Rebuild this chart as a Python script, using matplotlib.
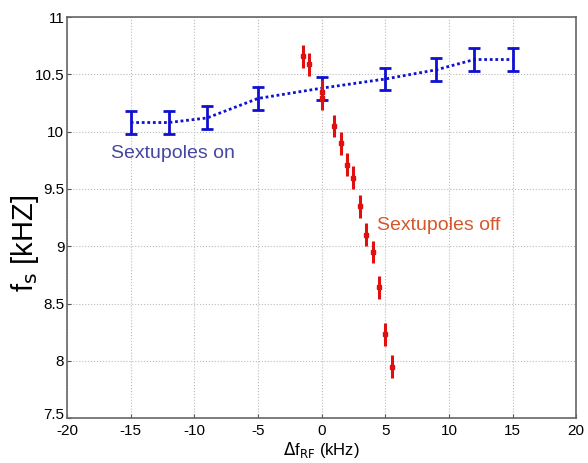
import numpy as np
import matplotlib.pyplot as plt
from matplotlib.transforms import ScaledTranslation

# sextupoles on: synchrotron frequency vs RF detuning
on_df = [-15, -12, -9, -5, 0, 5, 9, 12, 15]
on_fs = [10.08, 10.08, 10.12, 10.29, 10.38, 10.46, 10.54, 10.63, 10.63]
on_err = [0.1, 0.1, 0.1, 0.1, 0.1, 0.1, 0.1, 0.1, 0.1]

# sextupoles off
off_df = [-1.5, -1, 0, 0, 1, 1.5, 2, 2.5, 3, 3.5, 4, 4.5, 5, 5.5]
off_fs = [10.66, 10.59, 10.35, 10.29, 10.05, 9.90, 9.71, 9.60, 9.35, 9.10, 8.95, 8.64, 8.23, 7.95]
off_err = [0.1] * len(off_df)

plt.rcParams['font.family'] = ['Liberation Sans', 'DejaVu Sans']

fig = plt.figure(figsize=(5.88, 4.63), dpi=100)
ax = fig.add_axes([0.114, 0.097, 0.866, 0.866])

ax.errorbar(on_df, on_fs, yerr=on_err, color='#1010d0', lw=2, ls=(0, (1, 1)),
            elinewidth=2, capsize=4, capthick=2, zorder=3)
ax.errorbar(off_df, off_fs, yerr=off_err, color='#e01010', ls='none', marker='s',
            ms=3.5, elinewidth=2.2, capsize=0, zorder=4)

ax.text(-16.55, 9.81, 'Sextupoles on', color='#4646a4', fontsize=14, va='center')
ax.text(4.37, 9.185, 'Sextupoles off', color='#d4582c', fontsize=14, va='center')

ax.set_xlim(-20, 20)
ax.set_ylim(7.5, 11)
ax.set_xticks(np.arange(-20, 21, 5))
ax.set_yticks(np.arange(7.5, 11.01, 0.5))
ax.set_xticklabels(['-20', '-15', '-10', '-5', '0', '5', '10', '15', '20'])
ax.set_yticklabels(['7.5', '8', '8.5', '9', '9.5', '10', '10.5', '11'])
ax.tick_params(labelsize=11, length=3, direction='in', color='#555555', pad=2)
ax.tick_params(axis='x', pad=4)
ax.grid(True, ls=':', color='#bbbbbb', lw=0.8)
for s in ax.spines.values():
    s.set_color('#666666')
    s.set_linewidth(1.2)

# corner labels 7.5 / -20 sit just apart, as in MATLAB output
lab = ax.get_yticklabels()[0]
lab.set_transform(lab.get_transform() + ScaledTranslation(0, 3 / 72, fig.dpi_scale_trans))

ax.set_ylabel(r'f$_\mathrm{s}$ [kHZ]', fontsize=21)
ax.yaxis.set_label_coords(-0.051, 0.436)
ax.set_xlabel(r'$\Delta$f$_\mathrm{RF}$ (kHz)', fontsize=12, labelpad=2)

fig.savefig('out.png', dpi=100)
